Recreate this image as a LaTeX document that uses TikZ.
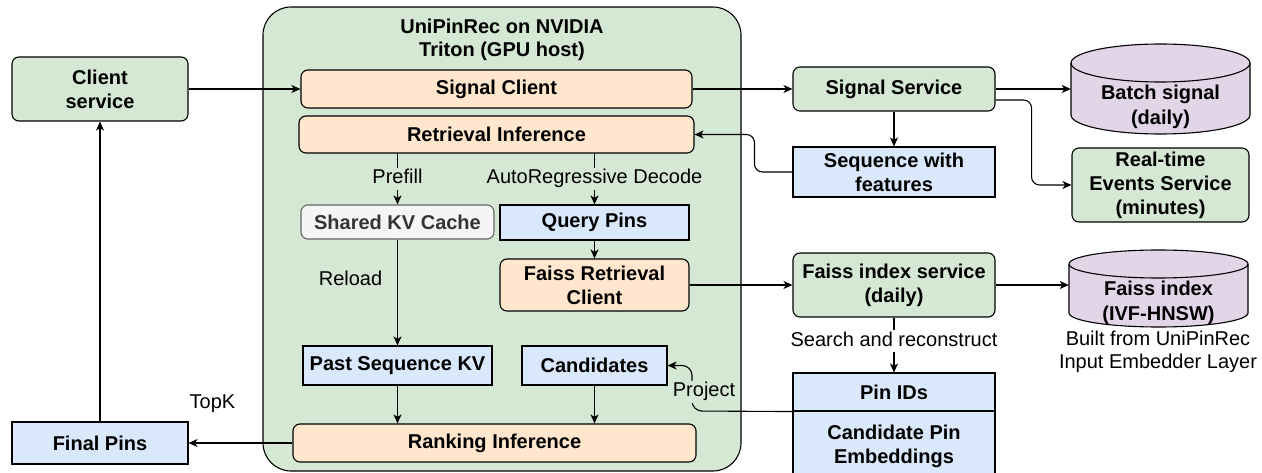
\documentclass[tikz,border=0pt]{standalone}
\usepackage{fontspec}
\setmainfont{Liberation Sans}
\usetikzlibrary{arrows.meta,calc}
\definecolor{cgreen}{HTML}{D5E8D4}
\definecolor{corange}{HTML}{FFE6CC}
\definecolor{cblue}{HTML}{DAE8FC}
\definecolor{cpurple}{HTML}{E1D5E7}
\definecolor{cgrayfill}{HTML}{F5F5F5}
\definecolor{cgraydraw}{HTML}{666666}
\definecolor{cgraytext}{HTML}{333333}
\begin{document}
\begin{tikzpicture}[x=1pt,y=-1pt,
  box/.style={draw=black, line width=1.1pt, inner sep=0pt, align=center, font=\fontsize{20}{24}\selectfont\bfseries},
  boxg/.style={box, fill=cgreen, rounded corners=7pt},
  boxo/.style={box, fill=corange, rounded corners=7pt},
  boxb/.style={box, fill=cblue},
  arr/.style={line width=1.1pt, -{Stealth[length=9pt,width=8pt,inset=2.5pt]}},
  lbl/.style={inner sep=1pt, text height=15pt, text depth=5pt, font=\fontsize{20}{24}\selectfont},
  cyl/.style={draw=black, line width=1.1pt, fill=cpurple},
]
\useasboundingbox (0,0) rectangle (1262,473);

% container
\node[draw=black, line width=1.1pt, fill=cgreen, rounded corners=28pt, minimum width=478pt, minimum height=464pt, inner sep=0pt] (gpu) at (502,239) {};
\node[align=center, font=\fontsize{20}{23}\selectfont\bfseries] (title) at (502,40) {UniPinRec on NVIDIA\\Triton (GPU host)};

% left column
\node[boxg, minimum width=176pt, minimum height=64pt] (client) at (100,89) {Client\\service};
\node[boxb, minimum width=176pt, minimum height=42pt] (final) at (100,443) {Final Pins};

% inside container
\node[boxo, minimum width=391pt, minimum height=38pt] (sigcl) at (496.5,89) {Signal Client};
\node[boxo, minimum width=395pt, minimum height=37pt] (retinf) at (496.5,134.5) {Retrieval Inference};
\node[box, draw=cgraydraw, fill=cgrayfill, text=cgraytext, rounded corners=7pt, minimum width=193pt, minimum height=34pt] (shkv) at (397.5,222) {Shared KV Cache};
\node[boxb, minimum width=189pt, minimum height=35pt] (qpins) at (594.5,222.5) {Query Pins};
\node[boxo, minimum width=189pt, minimum height=52pt] (frc) at (594.5,285) {Faiss Retrieval\\Client};
\node[boxb, minimum width=189pt, minimum height=39pt] (psk) at (397.5,365.5) {Past Sequence KV};
\node[boxb, minimum width=145pt, minimum height=39pt] (cand) at (594.5,365.5) {Candidates};
\node[boxo, minimum width=403pt, minimum height=38pt] (rank) at (494.5,443) {Ranking Inference};

% right side
\node[boxg, minimum width=202pt, minimum height=44pt] (sigsvc) at (894,89) {Signal Service};
\node[boxb, minimum width=202pt, minimum height=50pt] (seq) at (894,172) {Sequence with\\features};
\node[boxg, minimum width=177pt, minimum height=74pt] (rt) at (1160.5,185) {Real-time\\Events Service\\(minutes)};
\node[boxg, minimum width=202pt, minimum height=64pt] (fisvc) at (894,285) {Faiss index service\\(daily)};
\node[boxb, minimum width=202pt, minimum height=38pt] (pinids) at (894,392) {Pin IDs};
\node[boxb, minimum width=202pt, minimum height=70pt] (cpe) at (894,446) {Candidate Pin\\Embeddings};

% cylinders
\draw[cyl] (1071,63) -- (1071,115) arc[start angle=180, end angle=360, x radius=89.5pt, y radius=19pt] -- (1250,63) arc[start angle=0, end angle=180, x radius=89.5pt, y radius=19pt] -- cycle;
\draw[line width=1.1pt] (1071,63) arc[start angle=180, end angle=360, x radius=89.5pt, y radius=19pt];
\node[align=center, inner sep=0pt, minimum width=179pt, font=\fontsize{20}{25}\selectfont\bfseries] (batch) at (1160.5,107) {Batch signal\\(daily)};

\draw[cyl] (1069,264) -- (1069,313) arc[start angle=180, end angle=360, x radius=89.5pt, y radius=14pt] -- (1248,264) arc[start angle=0, end angle=180, x radius=89.5pt, y radius=14pt] -- cycle;
\draw[line width=1.1pt] (1069,264) arc[start angle=180, end angle=360, x radius=89.5pt, y radius=14pt];
\node[align=center, inner sep=0pt, minimum width=179pt, font=\fontsize{20}{25}\selectfont\bfseries] (fidx) at (1158.5,302.5) {Faiss index\\(IVF-HNSW)};
\node[align=center, inner sep=0pt, font=\fontsize{20}{23}\selectfont] (built) at (1158,351.5) {Built from UniPinRec\\Input Embedder Layer};

% connectors
\draw[arr] (client.east) -- (sigcl.west);
\draw[arr] (sigcl.east) -- (sigsvc.west);
\draw[arr] (sigsvc.east) -- (sigsvc.east -| batch.west);
\draw[arr, rounded corners=8pt] ([yshift=-11pt]sigsvc.east) -- ++(36,0) |- (rt.west);
\draw[arr] (sigsvc.south) -- (seq.north);
\draw[arr, rounded corners=8pt] (seq.west) -- ++(-38,0) |- (retinf.east);
\draw[arr] (shkv.north |- retinf.south) -- node[lbl, fill=cgreen]{Prefill} (shkv.north);
\draw[arr] (qpins.north |- retinf.south) -- node[lbl, fill=cgreen]{AutoRegressive Decode} (qpins.north);
\draw[arr] (qpins.south) -- (frc.north);
\draw[arr] (shkv.south) -- node[lbl, pos=0.39, xshift=-47pt]{Reload} (psk.north);
\draw[arr] (psk.south) -- (psk.south |- rank.north);
\draw[arr] (cand.south) -- (cand.south |- rank.north);
\draw[arr] (rank.west) -- node[lbl, pos=0.77, yshift=40pt]{TopK} (final.east);
\draw[arr] (final.north) -- (client.south);
\draw[arr] (frc.east) -- (fisvc.west);
\draw[arr] (fisvc.east) -- (fisvc.east -| fidx.west);
\draw[arr] (fisvc.south) -- node[lbl, fill=white, pos=0.43]{Search and reconstruct} (pinids.north);
\coordinate (pj) at (692,411);
\draw[arr, rounded corners=10pt] (pinids.south west) -- (pj) -- node[lbl, fill=cgreen, pos=0.42, xshift=12pt]{Project} (pj |- cand.east) -- (cand.east);
\end{tikzpicture}
\end{document}
